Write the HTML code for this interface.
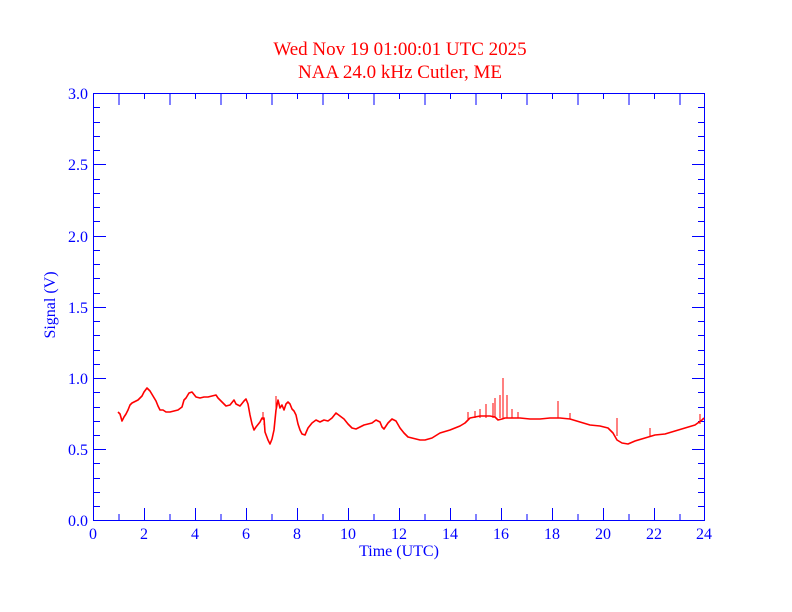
<!DOCTYPE html>
<html><head><meta charset="utf-8"><style>
html,body{margin:0;padding:0;background:#fff;}
svg{display:block;font-family:"Liberation Serif",serif;}
</style></head><body>
<svg width="792" height="612" viewBox="0 0 792 612" xmlns="http://www.w3.org/2000/svg">
<rect width="792" height="612" fill="#fff"/>
<text x="400" y="55" fill="#f00" font-size="19" text-anchor="middle">Wed Nov 19 01:00:01 UTC 2025</text>
<text x="400" y="78" fill="#f00" font-size="19" text-anchor="middle">NAA 24.0 kHz Cutler, ME</text>
<g stroke="#00f" stroke-width="1" fill="none">
<rect x="93.5" y="93.5" width="611" height="427"/>
<path d="
M93.5,520V508 M119,520V514 M144.5,520V508 M170,520V514 M195.5,520V508 M221,520V514 M246.5,520V508 M272,520V514 M297.5,520V508 M323,520V514 M348.5,520V508 M374,520V514 M399.5,520V508 M425,520V514 M450.5,520V508 M476,520V514 M501.5,520V508 M527,520V514 M552.5,520V508 M578,520V514 M603.5,520V508 M629,520V514 M654.5,520V508 M680,520V514
M119,94V105 M144.5,94V99 M170,94V105 M195.5,94V99 M221,94V105 M246.5,94V99 M272,94V105 M297.5,94V99 M323,94V105 M348.5,94V99 M374,94V105 M399.5,94V99 M425,94V105 M450.5,94V99 M476,94V105 M501.5,94V99 M527,94V105 M552.5,94V99 M578,94V105 M603.5,94V99 M629,94V105 M654.5,94V99 M680,94V105
M94,506.5H100 M94,492.5H100 M94,478.5H100 M94,463.5H100 M94,449.5H106 M94,435.5H100 M94,421.5H100 M94,407.5H100 M94,392.5H100 M94,378.5H106 M94,364.5H100 M94,350.5H100 M94,335.5H100 M94,321.5H100 M94,307.5H106 M94,293.5H100 M94,278.5H100 M94,264.5H100 M94,250.5H100 M94,236.5H106 M94,221.5H100 M94,207.5H100 M94,193.5H100 M94,179.5H100 M94,164.5H106 M94,150.5H100 M94,136.5H100 M94,122.5H100 M94,107.5H100
M704,506.5H698 M704,492.5H698 M704,478.5H698 M704,463.5H698 M704,449.5H692 M704,435.5H698 M704,421.5H698 M704,407.5H698 M704,392.5H698 M704,378.5H692 M704,364.5H698 M704,350.5H698 M704,335.5H698 M704,321.5H698 M704,307.5H692 M704,293.5H698 M704,278.5H698 M704,264.5H698 M704,250.5H698 M704,236.5H692 M704,221.5H698 M704,207.5H698 M704,193.5H698 M704,179.5H698 M704,164.5H692 M704,150.5H698 M704,136.5H698 M704,122.5H698 M704,107.5H698"/>
</g>
<g fill="#00f" font-size="16" text-anchor="middle">
<text x="93" y="539">0</text><text x="144" y="539">2</text><text x="195" y="539">4</text><text x="246" y="539">6</text><text x="297" y="539">8</text><text x="348" y="539">10</text><text x="399" y="539">12</text><text x="450" y="539">14</text><text x="501" y="539">16</text><text x="552" y="539">18</text><text x="603" y="539">20</text><text x="654" y="539">22</text><text x="704" y="539">24</text>
<text x="399" y="556">Time (UTC)</text>
</g>
<g fill="#00f" font-size="16" text-anchor="end">
<text x="88" y="526">0.0</text><text x="88" y="455">0.5</text><text x="88" y="384">1.0</text><text x="88" y="313">1.5</text><text x="88" y="242">2.0</text><text x="88" y="170">2.5</text><text x="88" y="99">3.0</text>
</g>
<text transform="translate(55,305) rotate(-90)" fill="#00f" font-size="16" text-anchor="middle">Signal (V)</text>
<g stroke="#f00" stroke-width="1.6" fill="none" stroke-linejoin="round">
<polyline points="118,412 120,414 122,421 124,417 126,414 128,410 130,405 132,403 134,402 136,401 138,400 140,398 142,396 144,392 147,388 150,391 153,396 156,401 158,406 160,410 163,410 166,412 170,412 174,411 178,410 182,407 184,400 186,398 189,393 192,392 196,397 200,398 204,397 208,397 212,396 216,395 218,398 222,402 226,406 230,405 234,400 236,404 240,406 244,401 246,399 248,404 250,415 252,424 254,430 256,427 260,422 262,418 264,418 265,432 268,440 270,444 272,439 274,430 276,410 278,400 280,408 282,405 284,410 286,404 288,402 290,404 292,409 294,411 296,415 298,424 300,430 302,434 305,435 308,428 312,423 316,420 320,422 324,420 328,421 332,418 336,413 340,416 344,419 348,424 352,428 356,429 360,427 364,425 368,424 372,423 376,420 380,422 382,427 384,429 388,423 392,419 396,421 400,428 404,433 408,437 412,438 416,439 420,440 425,440 432,438 440,433 450,430 460,426 465,423 470,418 475,417 480,416 490,416 495,417 498,420 502,419 505,418 510,418 520,418 530,419 540,419 550,418 560,418 570,419 580,422 590,425 600,426 608,428 613,433 617,440 622,443 628,444 635,441 645,438 655,435 665,434 675,431 685,428 695,425 702,420 704,418"/>
<path stroke-width="1" d="M503,418V378 M500,418V395 M507,418V395 M495,418V398 M493,418V403 M486,418V404 M480,418V409 M475,418V411 M468,420V412 M512,418V409 M518,418V412 M558,418V401 M570,419V413 M617,436V418 M650,436V428 M700,424V414 M276,410V396 M263,420V412 M264,425V418"/>
</g>
</svg>
</body></html>
